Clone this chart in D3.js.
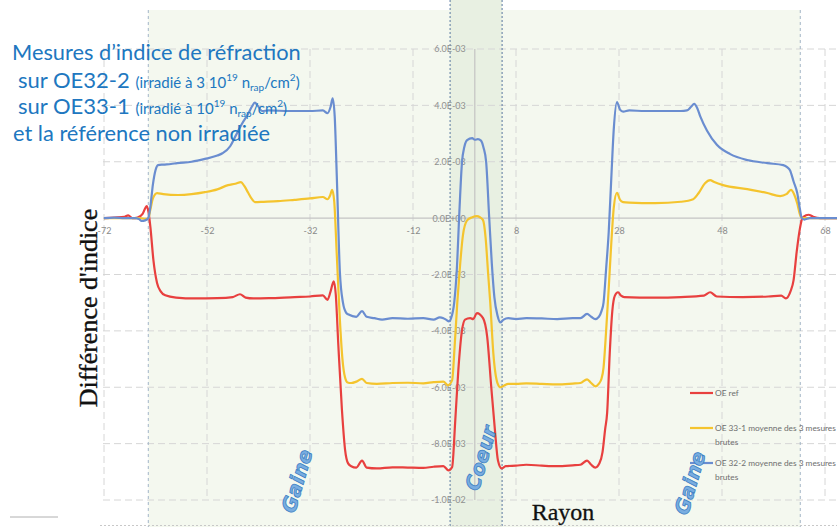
<!DOCTYPE html>
<html><head><meta charset="utf-8">
<script src="https://cdn.jsdelivr.net/npm/d3@7"></script>
<style>
html,body{margin:0;padding:0;background:#fff;}
svg{display:block;}
</style></head>
<body>
<script>
// ---------------- data ----------------
const xTicks = [-72,-52,-32,-12,8,28,48,68];
const yTicks = [-10,-8,-6,-4,-2,0,2,4,6];           // in units of 1e-3
const yTickLabels = ["-1.0E-02","-8.0E-03","-6.0E-03","-4.0E-03","-2.0E-03","0.0E+00","2.0E-03","4.0E-03","6.0E-03"];
const gaineBounds = [-63.4, 63.2];
const coeurBounds = [-4.8, 5.3];
const seriesNames = ["OE ref","OE 33-1 moyenne des 3 mesures|brutes","OE 32-2 moyenne des 3 mesures|brutes"];
const seriesColors = ["#e8403f","#f4c42e","#6a8dd0"];

// OE ref (red) [rayon, diff x1e-3]
const oeRef = [[-72,0],[-70,0.02],[-68,0.05],[-67.3,0.1],[-66.5,0.0],[-65.5,0.02],[-64.5,0.15],[-64,0.35],[-63.7,0.43],[-63.4,0.25],[-63.0,-0.3],[-62.4,-1.5],[-61.7,-2.3],[-61.0,-2.6],[-60.1,-2.74],[-58,-2.82],[-54.3,-2.85],[-50,-2.84],[-47,-2.8],[-45.6,-2.7],[-44.5,-2.82],[-43,-2.85],[-40,-2.84],[-35,-2.8],[-32,-2.78],[-29.5,-2.74],[-28.6,-2.9],[-28.0,-2.6],[-27.4,-2.24],[-27.0,-2.7],[-26.5,-4.5],[-25.8,-6.8],[-25.2,-8.2],[-24.6,-8.7],[-24,-8.8],[-23,-8.85],[-21.9,-8.6],[-21,-8.85],[-19,-8.88],[-16,-8.84],[-13,-8.85],[-10,-8.86],[-8,-8.82],[-6.1,-8.8],[-5.1,-8.95],[-4.4,-8.83],[-3.8,-7.2],[-3.2,-5.4],[-2.5,-4.0],[-1.9,-3.6],[-0.9,-3.55],[-0.3,-3.58],[0.4,-3.37],[1.6,-3.55],[2.4,-4.2],[3.2,-6.0],[3.9,-7.5],[4.5,-8.6],[5.2,-8.88],[6,-8.8],[8,-8.78],[10,-8.75],[13,-8.78],[16,-8.8],[19,-8.77],[20.5,-8.75],[21.8,-8.6],[22.6,-8.75],[23.4,-8.85],[24.2,-8.7],[24.8,-8.3],[25.3,-7.5],[25.7,-6.9],[26.2,-4.8],[26.7,-3.3],[27.2,-2.75],[27.8,-2.63],[28.4,-2.75],[29,-2.8],[35,-2.82],[40,-2.8],[44.5,-2.75],[45.7,-2.63],[47,-2.78],[52,-2.8],[57,-2.78],[59.5,-2.75],[60.4,-2.85],[61.3,-2.6],[61.9,-2.2],[62.5,-1.2],[63.1,-0.4],[63.6,0],[64.3,0.1],[64.8,0.12],[65.7,0.05],[67,0],[72,0]];

// OE 33-1 (yellow)
const oe33 = [[-72,0],[-68,0],[-65,0],[-64,-0.03],[-63.4,0],[-63.0,0.3],[-62.5,0.7],[-61.7,0.89],[-60.5,0.85],[-57.6,0.82],[-55,0.85],[-52.4,0.92],[-50,1.02],[-47.9,1.17],[-46.5,1.22],[-45.4,1.28],[-44.8,1.15],[-44.0,0.9],[-43.3,0.68],[-42.7,0.57],[-41,0.58],[-38.2,0.6],[-35,0.65],[-32,0.7],[-29.5,0.75],[-28.6,0.67],[-28.1,0.8],[-27.7,1.0],[-27.3,0.6],[-26.8,-1.3],[-26.2,-3.6],[-25.7,-5.0],[-25.2,-5.65],[-24.7,-5.83],[-24,-5.85],[-23,-5.8],[-21.9,-5.7],[-21,-5.85],[-19,-5.88],[-16,-5.85],[-13,-5.84],[-10,-5.86],[-8,-5.82],[-6.1,-5.8],[-5.2,-5.93],[-4.4,-5.75],[-3.9,-4.5],[-3.4,-3.0],[-3.0,-2.0],[-2.3,-0.6],[-1.5,-0.08],[-0.5,0.03],[0.4,0.07],[1.0,0.03],[1.6,-0.07],[2.1,-0.7],[2.6,-2.0],[3.0,-3.0],[3.6,-4.8],[4.4,-5.85],[5.0,-6.0],[5.6,-5.95],[6.5,-5.88],[8,-5.88],[10,-5.86],[13,-5.88],[16,-5.9],[19,-5.87],[20.5,-5.85],[21.8,-5.72],[22.6,-5.85],[23.4,-5.97],[24.1,-5.87],[24.6,-5.7],[25.0,-5.3],[25.5,-4.0],[26.0,-2.5],[26.5,-0.9],[27.0,0.4],[27.6,0.9],[28.2,0.65],[28.8,0.57],[30,0.55],[35,0.53],[40,0.58],[42.4,0.67],[43.5,0.9],[44.7,1.24],[45.7,1.35],[46.5,1.28],[48.2,1.17],[52.9,1.03],[56.8,0.89],[59.3,0.78],[60.5,0.85],[61.4,1.0],[62.0,0.85],[62.6,0.53],[63.1,0.15],[63.5,0],[65,0],[72,0]];

// OE 32-2 (blue)
const oe32 = [[-72,0],[-70,0.02],[-68,0],[-66,0],[-65.2,-0.03],[-64.7,-0.1],[-64.0,-0.08],[-63.4,0.0],[-63.0,0.4],[-62.5,1.2],[-62.0,1.7],[-61.5,1.88],[-60.5,1.9],[-59,1.92],[-57.8,1.95],[-55,2.0],[-52.4,2.1],[-50,2.22],[-49,2.3],[-47.5,2.55],[-46.5,2.9],[-45.2,3.35],[-44,3.7],[-43.3,3.95],[-42.7,4.1],[-42.2,4.0],[-41.3,3.8],[-40,3.82],[-36,3.8],[-32,3.8],[-29.5,3.82],[-28.6,3.72],[-28.0,3.95],[-27.6,4.25],[-27.2,3.6],[-26.8,1.5],[-26.2,-1.9],[-25.6,-3.0],[-25.0,-3.35],[-24.5,-3.42],[-23,-3.5],[-21.9,-3.3],[-21,-3.5],[-19.5,-3.55],[-18,-3.6],[-16,-3.55],[-13,-3.57],[-10,-3.55],[-8,-3.6],[-6.8,-3.52],[-6.1,-3.55],[-5.6,-3.6],[-5.0,-3.66],[-4.6,-3.55],[-4.0,-3.0],[-3.5,-1.85],[-3.0,0.2],[-2.5,1.95],[-2.0,2.55],[-1.5,2.77],[-0.5,2.84],[0.0,2.78],[0.6,2.8],[1.2,2.75],[1.7,2.5],[2.2,2.0],[2.8,0.0],[3.3,-1.6],[3.8,-2.8],[4.4,-3.45],[5.0,-3.7],[5.6,-3.6],[6.5,-3.55],[8,-3.58],[10,-3.55],[13,-3.56],[16,-3.58],[19,-3.55],[20.5,-3.55],[21.8,-3.4],[22.6,-3.5],[23.4,-3.58],[24.1,-3.5],[24.6,-3.3],[25.0,-3.0],[25.5,-1.8],[26.0,-0.5],[26.5,1.4],[27.0,3.2],[27.6,4.12],[28.2,3.85],[28.8,3.78],[30,3.82],[33,3.8],[37,3.8],[40,3.8],[41.2,3.82],[42.0,3.95],[42.6,4.05],[43.2,3.9],[43.8,3.6],[45.1,3.1],[47,2.6],[49.6,2.27],[52.9,2.06],[56.8,1.95],[59.9,1.88],[60.7,1.8],[61.2,1.7],[61.9,1.3],[62.6,0.9],[63.1,0.35],[63.5,0],[64,-0.05],[65,0],[67,0],[72,0]];

const allSeries = [oeRef, oe33, oe32];

// ---------------- drawing ----------------
const W = 837, H = 527;
const svg = d3.select("body").append("svg").attr("width", W).attr("height", H);

const x = d3.scaleLinear().domain([-72, 68]).range([104, 825]);
const y = d3.scaleLinear().domain([-10, 6]).range([500, 49]);

// backgrounds
svg.append("rect").attr("x",0).attr("y",0).attr("width",W).attr("height",H).attr("fill","#ffffff");
svg.append("rect").attr("x", x(gaineBounds[0])).attr("y", 10)
  .attr("width", x(gaineBounds[1]) - x(gaineBounds[0])).attr("height", H - 10)
  .attr("fill", "#f4f8ef");
svg.append("rect").attr("x", x(coeurBounds[0])).attr("y", 0)
  .attr("width", x(coeurBounds[1]) - x(coeurBounds[0])).attr("height", H)
  .attr("fill", "#e8f0e2");

// grid
const grid = svg.append("g");
grid.selectAll("line.h").data(yTicks.filter(d => d !== 0)).join("line")
  .attr("x1", 103).attr("x2", W).attr("y1", d => y(d)).attr("y2", d => y(d))
  .attr("stroke", "#d6d6d6").attr("stroke-width", 1).attr("stroke-dasharray", "7,4");
grid.selectAll("line.v").data(xTicks).join("line")
  .attr("x1", d => x(d)).attr("x2", d => x(d)).attr("y1", y(6)).attr("y2", y(-10))
  .attr("stroke", "#d6d6d6").attr("stroke-width", 1).attr("stroke-dasharray", "7,4");

// zero axes
svg.append("line").attr("x1", 103).attr("x2", W).attr("y1", y(0)).attr("y2", y(0))
  .attr("stroke", "#c4c4c4").attr("stroke-width", 1.2);
svg.append("line").attr("x1", x(0)).attr("x2", x(0)).attr("y1", y(6)).attr("y2", y(-10))
  .attr("stroke", "#c4c4c4").attr("stroke-width", 1.2);

// region boundaries
[gaineBounds[0], gaineBounds[1]].forEach(v => {
  svg.append("line").attr("x1", x(v)).attr("x2", x(v)).attr("y1", 10).attr("y2", H)
    .attr("stroke", "#a3b5c8").attr("stroke-width", 1).attr("stroke-dasharray", "3,3");
});
[coeurBounds[0], coeurBounds[1]].forEach(v => {
  svg.append("line").attr("x1", x(v)).attr("x2", x(v)).attr("y1", 0).attr("y2", H)
    .attr("stroke", "#4a6a98").attr("stroke-width", 0.9).attr("stroke-dasharray", "2,2");
});

// axes (labels)
const xAxis = d3.axisBottom(x).tickValues(xTicks).tickSize(0).tickPadding(9).tickFormat(d => d);
const gx = svg.append("g").attr("transform", `translate(0,${y(0)})`).call(xAxis);
gx.select(".domain").remove();
gx.selectAll("text").attr("fill", "#8a8a8a").style("font-family", "Lato, 'Open Sans', sans-serif").style("font-size", "9px");

const yAxis = d3.axisLeft(y).tickValues(yTicks).tickSize(0).tickPadding(9)
  .tickFormat((d, i) => yTickLabels[i]);
const gy = svg.append("g").attr("transform", `translate(${x(0)},0)`).call(yAxis);
gy.select(".domain").remove();
gy.selectAll("text").attr("fill", "#909090").style("font-family", "Lato, 'Open Sans', sans-serif").style("font-size", "9px");

// series lines
svg.append("clipPath").attr("id", "clip").append("rect")
  .attr("x", 103).attr("y", 0).attr("width", W - 103).attr("height", H);
const line = d3.line().x(d => x(d[0])).y(d => y(d[1])).curve(d3.curveMonotoneX);
svg.append("g").attr("clip-path", "url(#clip)")
  .selectAll("path").data(allSeries).join("path")
  .attr("d", line).attr("fill", "none")
  .attr("stroke", (d, i) => seriesColors[i]).attr("stroke-width", 2.2)
  .attr("stroke-linejoin", "round");

// legend
const legendY = [393, 428, 463];
const lg = svg.append("g");
seriesNames.forEach((name, i) => {
  lg.append("line").attr("x1", 690).attr("x2", 713).attr("y1", legendY[i]).attr("y2", legendY[i])
    .attr("stroke", seriesColors[i]).attr("stroke-width", 2.2);
  const parts = name.split("|");
  parts.forEach((p, j) => {
    lg.append("text").attr("x", 715).attr("y", legendY[i] + 3 + j * 13.5)
      .attr("fill", "#6e6e6e").style("font-family", "Lato, 'Open Sans', sans-serif")
      .style("font-size", "8.3px").text(p);
  });
});

// axis titles
svg.append("text").attr("transform", "translate(97,308) rotate(-90)")
  .attr("text-anchor", "middle").attr("fill", "#111").attr("stroke", "#111").attr("stroke-width", 0.35)
  .style("font-family", "'Liberation Serif', 'Times New Roman', serif").style("font-size", "26px")
  .text("Différence d'indice");
svg.append("text").attr("x", 563).attr("y", 520).attr("text-anchor", "middle").attr("fill", "#111")
  .attr("stroke", "#111").attr("stroke-width", 0.3)
  .style("font-family", "'Liberation Serif', 'Times New Roman', serif").style("font-size", "24px")
  .text("Rayon");

// region labels
const regionLabels = [["Gaine", 297, 481], ["Coeur", 481, 458], ["Gaine", 690, 483]];
regionLabels.forEach(([t, cx, cy]) => {
  svg.append("text").attr("transform", `translate(${cx},${cy}) rotate(-74)`)
    .attr("text-anchor", "middle").attr("dominant-baseline", "central")
    .attr("fill", "#79ade0").attr("stroke", "#3b7fc4").attr("stroke-width", 0.8)
    .style("font-family", "'DejaVu Sans', sans-serif").style("font-weight", "bold")
    .style("font-style", "italic").style("font-size", "20px").text(t);
});

// title block
const tColor = "#2077c0";
const tFont = "Lato, 'Open Sans', sans-serif";
svg.append("text").attr("x", 12).attr("y", 60).attr("fill", tColor)
  .style("font-family", tFont).style("font-size", "21.8px").text("Mesures d\u2019indice de réfraction");

function subLine(yPos, big, pre, supA) {
  const t = svg.append("text").attr("x", 18).attr("y", yPos).attr("fill", tColor).style("font-family", tFont);
  t.append("tspan").style("font-size", "22px").text(big + " ");
  t.append("tspan").style("font-size", "15px").text(pre);
  t.append("tspan").style("font-size", "10px").attr("dy", -7).text(supA);
  t.append("tspan").style("font-size", "15px").attr("dy", 7).text(" n");
  t.append("tspan").style("font-size", "10px").attr("dy", 3).text("rap");
  t.append("tspan").style("font-size", "15px").attr("dy", -3).text("/cm");
  t.append("tspan").style("font-size", "10px").attr("dy", -7).text("2");
  t.append("tspan").style("font-size", "15px").attr("dy", 7).text(")");
}
subLine(88, "sur OE32-2", "(irradié à 3 10", "19");
subLine(114, "sur OE33-1", "(irradié à 10", "19");
svg.append("text").attr("x", 13).attr("y", 141).attr("fill", tColor)
  .style("font-family", tFont).style("font-size", "21.8px").text("et la référence non irradiée");

// slide decorations
svg.append("line").attr("x1", 10).attr("x2", 58).attr("y1", 517).attr("y2", 517).attr("stroke", "#b0b0b0").attr("stroke-width", 1);
svg.append("line").attr("x1", 100).attr("x2", W).attr("y1", 525.5).attr("y2", 525.5)
  .attr("stroke", "#c8c8c8").attr("stroke-width", 1).attr("stroke-dasharray", "2,2");
</script>
</body></html>
